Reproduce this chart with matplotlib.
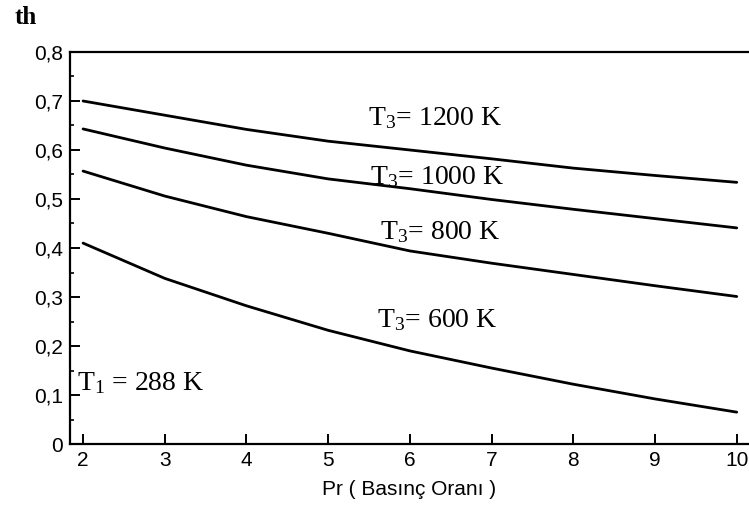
import numpy as np
import matplotlib
matplotlib.use("Agg")
import matplotlib.pyplot as plt
from matplotlib.ticker import FixedLocator, FuncFormatter

# thermal efficiency vs pressure ratio, T1 = 288 K
pr = [2, 3, 4, 5, 6, 7, 8, 9, 10]
eff_1200 = [0.700, 0.671, 0.642, 0.618, 0.600, 0.582, 0.563, 0.548, 0.534]
eff_1000 = [0.643, 0.604, 0.569, 0.541, 0.521, 0.499, 0.479, 0.460, 0.441]
eff_800 = [0.557, 0.506, 0.464, 0.430, 0.394, 0.369, 0.346, 0.323, 0.301]
eff_600 = [0.410, 0.338, 0.282, 0.232, 0.190, 0.155, 0.122, 0.092, 0.065]

curve_labels = ["1200", "1000", "800", "600"]
label_pos = [(6.31, 0.665), (6.33, 0.545), (6.37, 0.433), (6.33, 0.253)]

plt.rcParams['mathtext.fontset'] = 'custom'
plt.rcParams['mathtext.rm'] = 'Liberation Serif'
plt.rcParams['mathtext.it'] = 'Liberation Serif'

fig = plt.figure(figsize=(7.49, 5.2), dpi=100)
ax = fig.add_axes([70/749, 76/520, 679/749, 392/520])

for ys in [eff_1200, eff_1000, eff_800, eff_600]:
    ax.plot(pr, ys, color='black', lw=2.0, solid_capstyle='round')

for lab, (lx, ly) in zip(curve_labels, label_pos):
    ax.text(lx, ly, r"$\mathrm{T_3}$= " + lab + " K", ha='center', va='center',
            family='Liberation Serif', fontsize=20)
ax.text(1.92, 0.124, r"$\mathrm{T_1}$ = 288 K", ha='left', va='center',
        family='Liberation Serif', fontsize=20)

ax.set_xlim(1.84, 10.15)
ax.set_ylim(0, 0.8)
ax.spines['right'].set_visible(False)
for s in ['left', 'bottom', 'top']:
    ax.spines[s].set_linewidth(1.6)

ax.xaxis.set_major_locator(FixedLocator(pr))
ax.yaxis.set_major_locator(FixedLocator(np.arange(0, 0.81, 0.1)))
ax.yaxis.set_minor_locator(FixedLocator(np.arange(0.05, 0.8, 0.1)))
ax.yaxis.set_major_formatter(FuncFormatter(lambda v, p: "0" if abs(v) < 1e-9 else ("%.1f" % v).replace(".", ",")))

ax.tick_params(axis='both', which='major', direction='in', length=7, width=1.4,
               labelsize=15, pad=5)
ax.tick_params(axis='y', which='minor', direction='in', length=3, width=1.2)
ax.tick_params(top=False, right=False)
for t in ax.get_xticklabels() + ax.get_yticklabels():
    t.set_family('Liberation Sans')

ax.set_xlabel("Pr ( Basınç Oranı )", family='Liberation Sans', fontsize=15, labelpad=7)
fig.text(15/749, 1 - 18/520, "th", family='Liberation Serif', fontweight='bold',
         fontsize=18, ha='left', va='center')

fig.savefig("out.png", dpi=100)
